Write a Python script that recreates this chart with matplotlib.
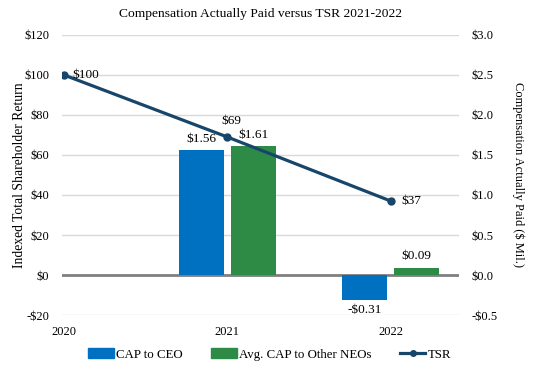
import numpy as np
import matplotlib
matplotlib.use("Agg")
from matplotlib import pyplot as plt
from matplotlib.lines import Line2D
from matplotlib.patches import Patch

plt.rcParams['font.family'] = ['Liberation Serif', 'DejaVu Serif']
plt.rcParams['font.size'] = 9

# data
years = ['2020', '2021', '2022']
tsr = [100, 69, 37]
bar_years = ['2021', '2022']
cap_ceo = [1.56, -0.31]
cap_neo = [1.61, 0.09]

blue = '#0070C0'
green = '#2E8B45'
navy = '#17466A'

fig = plt.figure(figsize=(5.39, 3.80), dpi=100)
ax = fig.add_axes([0.115, 0.171, 0.737, 0.737])
ax2 = ax.twinx()

x_all = np.arange(len(years))
xb = np.array([years.index(y) for y in bar_years])
w = 0.275
off = 0.16

# gridlines + bars on the right-hand axis
ax2.set_ylim(-0.5, 3.0)
ax2.set_yticks(np.arange(-0.5, 3.01, 0.5))
ax2.set_yticklabels([('-$%.1f' % abs(v)) if v < 0 else ('$%.1f' % v) for v in np.arange(-0.5, 3.01, 0.5)])
ax2.grid(axis='y', color='#D9D9D9', linewidth=1, zorder=0)
ax2.set_axisbelow(True)
ax2.axhline(0, color='#808080', linewidth=2, zorder=1)
b1 = ax2.bar(xb - off, cap_ceo, w, color=blue, zorder=2)
b2 = ax2.bar(xb + off, cap_neo, w, color=green, zorder=2)
for bars, vals in [(b1, cap_ceo), (b2, cap_neo)]:
    for r, v in zip(bars, vals):
        lab = ('-$%.2f' % abs(v)) if v < 0 else ('$%.2f' % v)
        if v >= 0:
            ax2.annotate(lab, (r.get_x() + r.get_width() / 2, v), xytext=(0, 4),
                         textcoords='offset points', ha='center', va='bottom', fontsize=9.5)
        else:
            ax2.annotate(lab, (r.get_x() + r.get_width() / 2, v), xytext=(0, -3),
                         textcoords='offset points', ha='center', va='top', fontsize=9.5)
ax2.set_ylabel('Compensation Actually Paid ($ Mil.)', rotation=-90, labelpad=19, fontsize=9)

# TSR line on the left axis, drawn on top
ax.set_zorder(ax2.get_zorder() + 1)
ax.patch.set_visible(False)
ax.plot(x_all, tsr, color=navy, linewidth=2.3, marker='o', markersize=5)
ax.set_ylim(-20, 120)
ax.set_yticks(np.arange(-20, 121, 20))
ax.set_yticklabels([('-$%d' % abs(v)) if v < 0 else ('$%d' % v) for v in np.arange(-20, 121, 20)])
ax.set_ylabel('Indexed Total Shareholder Return', labelpad=-1, fontsize=9.8)
ax.annotate('$%d' % tsr[0], (x_all[0], tsr[0]), xytext=(6, 0), textcoords='offset points',
            ha='left', va='center', fontsize=9.5)
ax.annotate('$%d' % tsr[1], (x_all[1], tsr[1]), xytext=(3, 7), textcoords='offset points',
            ha='center', va='bottom', fontsize=9.5)
ax.annotate('$%d' % tsr[2], (x_all[2], tsr[2]), xytext=(8, 0), textcoords='offset points',
            ha='left', va='center', fontsize=9.5)

ax.set_xlim(-0.012, 2.42)
ax.set_xticks(x_all)
ax.set_xticklabels(years)

for a in (ax, ax2):
    for s in a.spines.values():
        s.set_visible(False)
    a.tick_params(length=0, labelsize=9)
ax.tick_params(axis='y', pad=9)
ax2.tick_params(axis='y', pad=9)
ax.tick_params(axis='x', pad=8)

ax.set_title('Compensation Actually Paid versus TSR 2021-2022', fontsize=9.7, pad=13)

handles = [Patch(color=blue, label='CAP to CEO'),
           Patch(color=green, label='Avg. CAP to Other NEOs'),
           Line2D([0], [0], color=navy, linewidth=2.3, marker='o', markersize=4, label='TSR')]
fig.legend(handles=handles, loc='center', bbox_to_anchor=(0.5, 0.067), ncol=3, frameon=False,
           fontsize=9.3, handlelength=2.0, handleheight=0.8, columnspacing=2.2, handletextpad=0.15)

fig.savefig('out.png', dpi=100)
